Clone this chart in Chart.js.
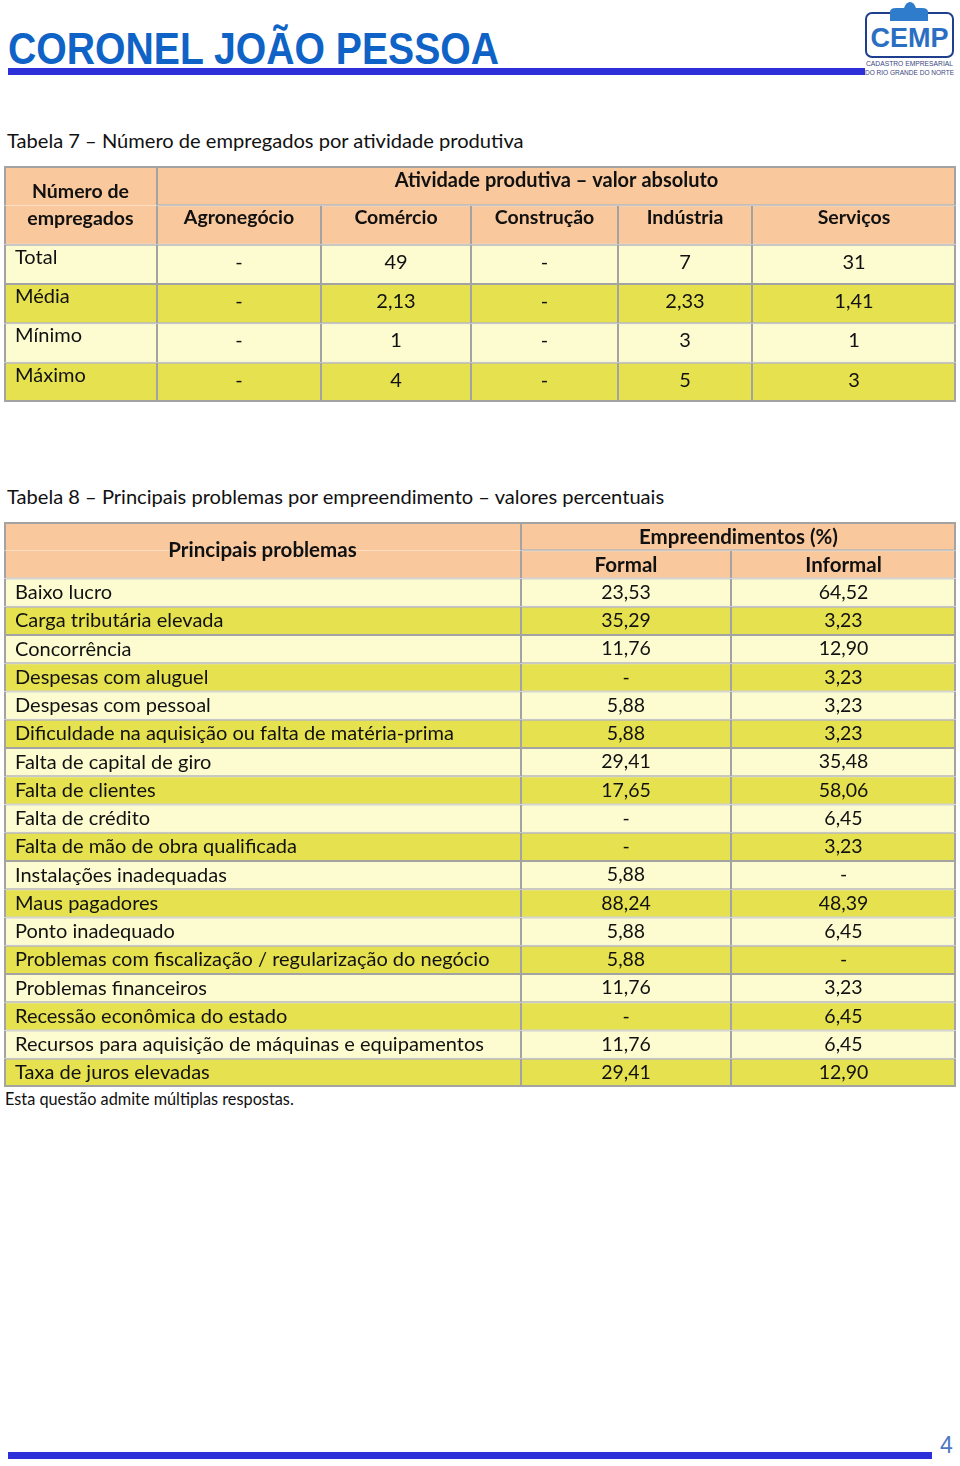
<!DOCTYPE html>
<html lang="pt-BR">
<head>
<meta charset="utf-8">
<title>Coronel João Pessoa</title>
<script src="https://cdn.jsdelivr.net/npm/chart.js@4.4.0/dist/chart.umd.min.js"></script>
<style>
  body { margin: 0; background: #fff; font-family: Lato, sans-serif; color: #111; }
  #pagina { position: relative; width: 960px; height: 1466px; overflow: hidden; }
  .abs { position: absolute; }
  #titulo { left: 8px; top: 27px; font: bold 44px 'Liberation Sans', Arial, sans-serif; color: #0f63c6;
            transform-origin: left top; transform: scaleX(0.89); white-space: nowrap; line-height: 1; }
  #barraTopo { left: 8px; top: 68px; width: 857px; height: 7px; background: #2d2fd8; }
  #barraBase { left: 8px; top: 1452px; width: 924px; height: 7px; background: #2d2fd8; }
  #numPagina { left: 940px; top: 1432px; font: 23px 'Liberation Sans', Arial, sans-serif; color: #4d78c4; }
  .legenda { left: 7px; font-size: 20.1px; white-space: nowrap; line-height: 24px; }
  #tab7 { left: 4px; top: 166px; width: 952px; height: 236px; }
  #tab8 { left: 4px; top: 522px; width: 952px; height: 565px; }
  #nota { left: 5px; top: 1089px; font-size: 16.3px; white-space: nowrap; }
</style>
</head>
<body>
<div id="pagina">
  <div id="titulo" class="abs">CORONEL JOÃO PESSOA</div>
  <div id="barraTopo" class="abs"></div>
  <svg class="abs" style="left:860px;top:0" width="100" height="80" viewBox="0 0 100 80">
    <rect x="6" y="13" width="87" height="44" rx="6" fill="#fff" stroke="#1d3f8e" stroke-width="2"/>
    <path d="M30 21 L30 12 Q30 8 36 8 L44 8 Q46 2 50 2 Q54 2 56 8 L62 8 Q68 8 68 12 L68 21 Z" fill="#2f7ccc"/>
    <text x="49.5" y="47" text-anchor="middle" font-family="Liberation Sans" font-weight="bold" font-size="27" fill="#2a6fc2">CEMP</text>
    <text x="6" y="65.5" font-family="Liberation Sans" font-size="8" fill="#3a4680" textLength="87" lengthAdjust="spacingAndGlyphs">CADASTRO EMPRESARIAL</text>
    <text x="5" y="74.5" font-family="Liberation Sans" font-size="8" fill="#3a4680" textLength="89" lengthAdjust="spacingAndGlyphs">DO RIO GRANDE DO NORTE</text>
  </svg>

  <div class="abs legenda" style="top:128px">Tabela 7 – Número de empregados por atividade produtiva</div>
  <div id="tab7" class="abs"><canvas id="grafico7"></canvas></div>

  <div class="abs legenda" style="top:484px">Tabela 8 – Principais problemas por empreendimento – valores percentuais</div>
  <div id="tab8" class="abs"><canvas id="grafico8"></canvas></div>
  <div id="nota" class="abs">Esta questão admite múltiplas respostas.</div>

  <div id="barraBase" class="abs"></div>
  <div id="numPagina" class="abs">4</div>
</div>

<script>
// Tabela 7 - numero de empregados por atividade produtiva
var atividades = ['Agronegócio', 'Comércio', 'Construção', 'Indústria', 'Serviços'];
var medidas = ['Total', 'Média', 'Mínimo', 'Máximo'];
var agronegocio = [null, null, null, null];
var comercio = [49, 2.13, 1, 4];
var construcao = [null, null, null, null];
var industria = [7, 2.33, 3, 5];
var servicos = [31, 1.41, 1, 3];

// Tabela 8 - principais problemas (%)
var problemas = [
  'Baixo lucro', 'Carga tributária elevada', 'Concorrência', 'Despesas com aluguel',
  'Despesas com pessoal', 'Dificuldade na aquisição ou falta de matéria-prima',
  'Falta de capital de giro', 'Falta de clientes', 'Falta de crédito',
  'Falta de mão de obra qualificada', 'Instalações inadequadas', 'Maus pagadores',
  'Ponto inadequado', 'Problemas com fiscalização / regularização do negócio',
  'Problemas financeiros', 'Recessão econômica do estado',
  'Recursos para aquisição de máquinas e equipamentos', 'Taxa de juros elevadas'
];
var formal = [23.53, 35.29, 11.76, null, 5.88, 5.88, 29.41, 17.65, null, null, 5.88, 88.24, 5.88, 5.88, 11.76, null, 11.76, 29.41];
var informal = [64.52, 3.23, 12.90, 3.23, 3.23, 3.23, 35.48, 58.06, 6.45, 3.23, null, 48.39, 6.45, null, 3.23, 6.45, 6.45, 12.90];

// layout (bordas das colunas em px dentro de cada tabela) e cores
var bordas7 = [0, 153, 317, 467, 614, 748, 952];
var bordas8 = [0, 517, 727, 952];
var cores = { cabecalho: '#f9c89c', claro: '#fdfcd0', escuro: '#e6e24f', borda: '#a3a3a3', texto: '#111' };

function fmt7(v) {
  if (v === null) return '-';
  return Number.isInteger(v) ? String(v) : v.toFixed(2).replace('.', ',');
}
function fmt8(v) {
  return v === null ? '-' : v.toFixed(2).replace('.', ',');
}

// escreve o texto de cada celula no centro (ou a esquerda) da barra
var textoCelulas = {
  id: 'textoCelulas',
  afterDatasetsDraw: function(chart) {
    var ctx = chart.ctx;
    ctx.save();
    chart.data.datasets.forEach(function(ds, di) {
      var meta = chart.getDatasetMeta(di);
      ds.celula.forEach(function(info, r) {
        if (!info || info.parte !== 0) return;
        var cel = info.cel;
        var p = meta.data[r].getProps(['x', 'y', 'base', 'height'], true);
        var q = meta.data[r + info.span - 1].getProps(['y', 'height'], true);
        var topo = p.y - p.height / 2, fundo = q.y + q.height / 2;
        var esq = Math.min(p.x, p.base), dir = Math.max(p.x, p.base);
        var cy = (topo + fundo) / 2 + (cel.dy || 0);
        var linhas = String(cel.texto).split('\n');
        ctx.font = (cel.negrito ? 'bold ' : '') + cel.tam + 'px Lato';
        ctx.fillStyle = cores.texto;
        ctx.textBaseline = 'middle';
        ctx.textAlign = cel.esq ? 'left' : 'center';
        var tx = cel.esq ? esq + 11 : (esq + dir) / 2;
        var lh = cel.tam * 1.4;
        linhas.forEach(function(t, j) {
          ctx.fillText(t, tx, cy + (j - (linhas.length - 1) / 2) * lh);
        });
      });
    });
    ctx.restore();
  }
};

function montaTabela(canvasId, bordas, nCab, linhas, celulas) {
  var categorias = [];
  for (var i = 0; i < nCab; i++) categorias.push('cabeçalho ' + (i + 1));
  categorias = categorias.concat(linhas);
  var nLin = categorias.length, nCol = bordas.length - 1;

  var datasets = [];
  for (var c = 0; c < nCol; c++) {
    datasets.push({
      label: 'coluna ' + c,
      data: categorias.map(function() { return null; }),
      celula: categorias.map(function() { return null; })
    });
  }
  celulas.forEach(function(cel) {
    var span = cel.span || 1;
    for (var k = 0; k < span; k++) {
      datasets[cel.c0].data[cel.lin + k] = [bordas[cel.c0], bordas[cel.c1]];
      datasets[cel.c0].celula[cel.lin + k] = { cel: cel, parte: k, span: span };
    }
  });

  datasets.forEach(function(ds) {
    ds.backgroundColor = function(ctx) {
      var info = ctx.dataset.celula[ctx.dataIndex];
      return info ? info.cel.fundo : 'rgba(0,0,0,0)';
    };
    ds.borderColor = cores.borda;
    ds.borderWidth = function(ctx) {
      var info = ctx.dataset.celula[ctx.dataIndex];
      if (!info) return 0;
      var cel = info.cel, r = cel.lin + info.parte;
      return {
        top: info.parte === 0 ? (r === 0 ? 2 : 1) : 0,
        bottom: info.parte === info.span - 1 ? (r === nLin - 1 ? 2 : 1) : 0,
        left: cel.c0 === 0 ? 2 : 1,
        right: cel.c1 === nCol ? 2 : 1
      };
    };
    ds.borderSkipped = false;
    ds.inflateAmount = 0;
    ds.barPercentage = 1;
    ds.categoryPercentage = 1;
    ds.grouped = false;
  });

  return new Chart(document.getElementById(canvasId), {
    type: 'bar',
    data: { labels: categorias, datasets: datasets },
    options: {
      indexAxis: 'y',
      responsive: true,
      maintainAspectRatio: false,
      animation: false,
      events: [],
      layout: { padding: 0 },
      scales: {
        x: { type: 'linear', min: 0, max: bordas[nCol], display: false },
        y: { type: 'category', display: false, offset: true }
      },
      plugins: { legend: { display: false }, tooltip: { enabled: false } },
      datasets: { bar: { clip: false } }
    },
    plugins: [textoCelulas]
  });
}

// ---- Tabela 7
var celulas7 = [
  { lin: 0, span: 2, c0: 0, c1: 1, texto: 'Número de\nempregados', negrito: true, tam: 19.5, fundo: cores.cabecalho, dy: 0 },
  { lin: 0, c0: 1, c1: 6, texto: 'Atividade produtiva – valor absoluto', negrito: true, tam: 20, fundo: cores.cabecalho, dy: -5 }
];
atividades.forEach(function(a, i) {
  celulas7.push({ lin: 1, c0: i + 1, c1: i + 2, texto: a, negrito: true, tam: 19.5, fundo: cores.cabecalho, dy: -7 });
});
var colunas7 = [agronegocio, comercio, construcao, industria, servicos];
medidas.forEach(function(m, r) {
  var fundo = r % 2 === 0 ? cores.claro : cores.escuro;
  celulas7.push({ lin: r + 2, c0: 0, c1: 1, texto: m, esq: true, tam: 20, fundo: fundo, dy: -7 });
  colunas7.forEach(function(col, i) {
    celulas7.push({ lin: r + 2, c0: i + 1, c1: i + 2, texto: fmt7(col[r]), tam: 20, fundo: fundo, dy: -2 });
  });
});
montaTabela('grafico7', bordas7, 2, medidas, celulas7);

// ---- Tabela 8
var celulas8 = [
  { lin: 0, span: 2, c0: 0, c1: 1, texto: 'Principais problemas', negrito: true, tam: 20.5, fundo: cores.cabecalho },
  { lin: 0, c0: 1, c1: 3, texto: 'Empreendimentos (%)', negrito: true, tam: 20.5, fundo: cores.cabecalho, dy: 1 },
  { lin: 1, c0: 1, c1: 2, texto: 'Formal', negrito: true, tam: 20.5, fundo: cores.cabecalho, dy: 1 },
  { lin: 1, c0: 2, c1: 3, texto: 'Informal', negrito: true, tam: 20.5, fundo: cores.cabecalho, dy: 1 }
];
problemas.forEach(function(p, r) {
  var fundo = r % 2 === 0 ? cores.claro : cores.escuro;
  celulas8.push({ lin: r + 2, c0: 0, c1: 1, texto: p, esq: true, tam: 20, fundo: fundo });
  celulas8.push({ lin: r + 2, c0: 1, c1: 2, texto: fmt8(formal[r]), tam: 19.5, fundo: fundo });
  celulas8.push({ lin: r + 2, c0: 2, c1: 3, texto: fmt8(informal[r]), tam: 19.5, fundo: fundo });
});
montaTabela('grafico8', bordas8, 2, problemas, celulas8);
</script>
</body>
</html>
